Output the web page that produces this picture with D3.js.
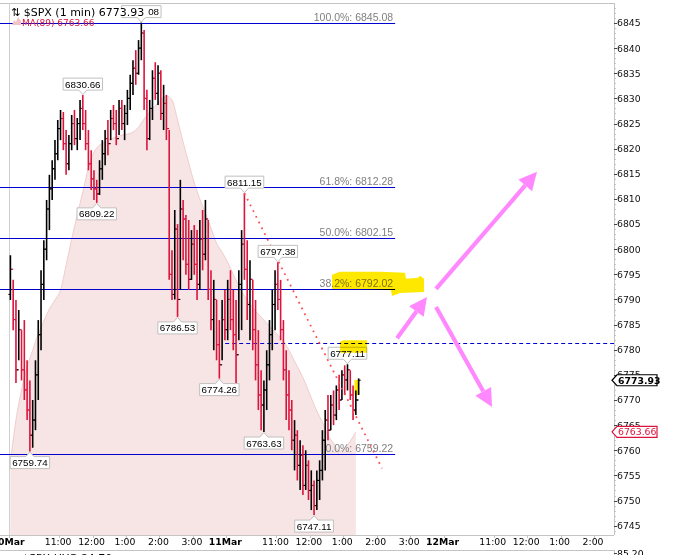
<!DOCTYPE html>
<html><head><meta charset="utf-8">
<script src="https://cdn.jsdelivr.net/npm/d3@7"></script>
<style>body{margin:0;background:#fff;}svg{display:block;}</style>
</head><body><svg id="c" width="685" height="555"></svg>
<script>
// ---------- DATA (5-minute OHLC; opens = previous close) ----------
const firstOpen = 6791;
const highs = [
6798.8,6793.9,6789.9,6787.9,6783.9,6785.9,6777.9,6773.9,6770.0,6777.9,
6785.9,6795.8,6801.8,6809.8,6814.8,6817.7,6821.7,6825.7,6827.7,6827.3,
6823.7,6822.7,6826.7,6827.7,6826.1,6829.7,6830.66,6827.7,6823.7,6819.7,
6815.7,6813.8,6817.7,6821.7,6823.7,6825.7,6827.7,6828.7,6827.7,6829.7,
6829.7,6828.7,6831.7,6834.7,6837.6,6839.6,6841.6,6845.08,6843.6,6831.7,
6829.7,6835.6,6837.2,6836.6,6835.6,6832.7,6830.7,6823.7,6799.8,6807.8,
6805.0,6813.8,6809.8,6806.8,6805.8,6803.8,6804.8,6803.8,6805.8,6807.8,
6809.8,6805.8,6795.8,6793.9,6789.9,6785.9,6789.9,6791.9,
6793.9,6795.8,6791.9,6789.9,6795.8,6803.8,6811.15,6801.8,6797.8,6793.9,
6789.9,6783.9,6775.9,6773.9,6779.9,6785.9,6791.9,6795.8,6797.38,6793.9,
6785.9,6779.9,6775.9,6770.0,6766.0,6764.0,6762.0,6761.0,6760.0,6758.0,
6756.0,6754.0,6756.0,6758.0,6764.0,6768.0,6771.0,6771.0,6771.9,6772.9,
6775.0,6775.9,6776.9,6777.11,6775.9,6772.9,6771.9,6774.3];
const lows = [
6789.9,6783.9,6773.4,6777.9,6773.9,6770.0,6766.0,6759.74,6760.5,6764.0,
6770.0,6779.9,6789.9,6797.8,6803.8,6809.8,6813.8,6817.7,6821.7,6819.7,
6814.8,6815.7,6819.7,6820.7,6819.7,6821.7,6823.7,6819.7,6815.7,6811.8,
6809.8,6809.22,6810.8,6813.8,6816.7,6818.7,6821.7,6823.7,6820.7,6822.7,
6823.7,6821.7,6824.7,6827.7,6830.7,6832.7,6834.7,6837.6,6827.7,6819.7,
6821.7,6825.7,6829.7,6828.7,6825.7,6823.7,6821.7,6793.9,6789.9,6790.0,
6786.53,6792.0,6797.8,6794.9,6791.9,6793.9,6794.9,6789.9,6791.9,6795.8,
6797.8,6789.9,6783.9,6779.9,6777.9,6774.26,6777.9,6781.9,
6781.9,6783.9,6779.9,6772.0,6781.9,6783.9,6793.9,6785.9,6781.9,6779.9,
6773.9,6768.0,6764.0,6763.63,6768.0,6773.9,6779.9,6783.9,6787.9,6781.9,
6773.9,6766.0,6764.0,6760.0,6756.0,6754.0,6752.1,6751.1,6752.1,6750.1,
6748.1,6747.11,6748.1,6750.1,6754.0,6756.0,6762.0,6764.0,6765.0,6766.0,
6768.0,6770.0,6771.0,6771.9,6770.0,6766.0,6767.0,6771.0];
const closes = [
6796,6786,6776,6784,6776,6772,6768,6763,6766,6775,
6783,6793,6800,6808,6812,6816,6819,6824,6826,6821,
6817,6821,6825,6822,6825,6828,6825,6821,6817,6814,
6812,6811,6816,6819,6822,6821,6826,6825,6822,6828,
6825,6827,6830,6833,6836,6835,6840,6843,6830,6822,
6828,6834,6831,6835,6827,6829,6824,6795,6791,6804,
6790,6808,6806,6797,6794,6801,6797,6793,6802,6799,
6806,6792,6786,6790,6781,6777,6786,6784,
6790,6786,6783,6779,6793,6801,6796,6789,6794,6784,
6777,6771,6769,6772,6777,6783,6789,6793,6790,6784,
6776,6771,6768,6762,6763,6757,6759,6753,6757,6752,
6753,6749,6754,6756,6762,6766,6764,6769,6767,6772,
6770,6775,6774,6776,6771,6768,6770,6773.93];
// MA(89), one reading every 2 bars (10 minutes)
const maValues = [
6757.6,6766.0,6772.0,6776.5,6779.9,6783.1,6785.7,6788.1,6789.9,6791.9,
6796.8,6802.0,6806.8,6811.4,6816.2,6819.3,6820.7,6821.3,6821.9,6822.3,
6822.7,6822.9,6823.3,6824.3,6825.9,6827.3,6828.5,6829.7,6830.5,6829.7,
6825.7,6821.3,6817.2,6813.2,6810.0,6807.2,6804.2,6801.2,6799.4,6797.4,
6795.0,6792.7,6790.7,6789.1,6787.7,6786.5,6785.3,6784.1,6782.9,6781.7,
6779.9,6777.7,6775.6,6773.2,6770.4,6767.8,6765.6,6763.0,6761.4,6759.8,
6760.4,6761.8,6763.66];
const fibPct = ["100.0%","61.8%","50.0%","38.2%","0.0%"];
const fibVal = [6845.08,6812.28,6802.15,6792.02,6759.22];
const calloutBar = [26,47,31,60,7,75,84,96,91,109,121];
const calloutVal = [6830.66,6845.08,6809.22,6786.53,6759.74,6774.26,6811.15,6797.38,6763.63,6747.11,6777.11];
const calloutHigh = [true,true,false,false,false,false,true,true,false,false,true];
const yTicks = d3.range(6745, 6846, 5);
const timeTickMin = [0,90,150,210,270,330,390,480,540,600,660,720,780,870,930,990,1050];
const timeTickLbl = ["10Mar","11:00","12:00","1:00","2:00","3:00","11Mar","11:00","12:00","1:00","2:00","3:00","12Mar","11:00","12:00","1:00","2:00"];
const lastPrice = 6773.93, lastMA = 6763.66;
const resistance = 6781.3;
const trendLine = [[422.5,6811.15],[669.4,6756.4]];
const arrows = [[[696.4,6782.3],[750.2,6790.5]],[[766.4,6792.1],[947.6,6815.4]],[[766.4,6788.5],[866.9,6768.6]]];
const yellowMarks = [
  [[579.7,6794.9],[594.1,6795.5],[665.9,6795.5],[710.7,6795.3],[712.5,6794.1],[734.1,6794.3],[737.7,6794.7],[744.8,6794.1],[744.8,6791.5],[701.8,6791.3],[687.4,6790.7],[685.6,6791.9],[630,6792.1],[579.7,6792.1]],
  [[594.1,6781.6],[600,6781.9],[642.5,6781.9],[642.5,6779.4],[594.1,6779.4]],
  [[620,6774.0],[629,6774.0],[629,6771.0],[620,6771.0]]
];
const fibEndMin = 693, dashStartMin = 388;

// ---------- LAYOUT ----------
const plot = {left:0, right:614, top:3, bottom:535};
const x = d3.scaleLinear().domain([0,1170]).range([9, 660.9]);
const y = d3.scaleLinear().domain([6745,6845]).range([525.67,23]);
const RED = "#dc143c", BLUE = "#0000d0";
const svg = d3.select("#c");
const AX = "DejaVu Sans, Verdana, sans-serif";
const AR = "Liberation Sans, Arial, sans-serif";

svg.append("defs").append("clipPath").attr("id","pc").append("rect")
  .attr("x",plot.left).attr("y",plot.top).attr("width",plot.right-plot.left).attr("height",plot.bottom-plot.top);

// frame
const fr = svg.append("g").attr("stroke","#c4c4c4").attr("shape-rendering","crispEdges");
fr.append("line").attr("x1",0).attr("x2",plot.right).attr("y1",plot.top).attr("y2",plot.top);
fr.append("line").attr("x1",0).attr("x2",plot.right).attr("y1",plot.bottom).attr("y2",plot.bottom);
fr.append("line").attr("x1",plot.right).attr("x2",plot.right).attr("y1",plot.top).attr("y2",plot.bottom);
fr.append("line").attr("x1",x(0)).attr("x2",x(0)).attr("y1",plot.top).attr("y2",plot.bottom).attr("stroke","#d0d0d0");
fr.append("line").attr("x1",0).attr("x2",plot.right).attr("y1",550).attr("y2",550);
fr.append("line").attr("x1",plot.right).attr("x2",plot.right).attr("y1",550).attr("y2",555);

const g = svg.append("g").attr("clip-path","url(#pc)");
const maX = (d,k)=>x(k*10+2.5);
g.append("path").datum(maValues)
  .attr("d", d3.area().x(maX).y0(plot.bottom).y1(d=>y(d)).curve(d3.curveMonotoneX))
  .attr("fill","#f7e4e4");
g.append("path").datum(maValues)
  .attr("d", d3.line().x(maX).y(d=>y(d)).curve(d3.curveMonotoneX))
  .attr("fill","none").attr("stroke","#f0cdcd").attr("stroke-width",1);

g.append("g").selectAll("line").data(fibVal).join("line")
  .attr("x1",plot.left).attr("x2",x(fibEndMin))
  .attr("y1",d=>Math.round(y(d))+0.5).attr("y2",d=>Math.round(y(d))+0.5)
  .attr("stroke",BLUE).attr("stroke-width",1);
g.append("line").attr("x1",x(dashStartMin)).attr("x2",plot.right)
  .attr("y1",Math.round(y(resistance))+0.5).attr("y2",Math.round(y(resistance))+0.5)
  .attr("stroke",BLUE).attr("stroke-dasharray","4,3");

const bars = highs.map((h,i)=>({i,h,l:lows[i],c:closes[i],o:i===0?firstOpen:closes[i-1]}));
const bx = d=>x(d.i*5+2.5);
const bg = g.append("g").selectAll("g").data(bars).join("g")
  .attr("stroke",d=>d.c>=d.o?"#000":RED).attr("stroke-width",1.6);
bg.append("line").attr("x1",bx).attr("x2",bx).attr("y1",d=>y(d.h)).attr("y2",d=>y(d.l));
bg.append("line").attr("x1",d=>bx(d)-2).attr("x2",bx).attr("y1",d=>y(d.o)).attr("y2",d=>y(d.o)).attr("stroke-width",1.1);
bg.append("line").attr("x1",bx).attr("x2",d=>bx(d)+2).attr("y1",d=>y(d.c)).attr("y2",d=>y(d.c)).attr("stroke-width",1.1);

g.append("line").attr("x1",x(trendLine[0][0])).attr("y1",y(trendLine[0][1]))
  .attr("x2",x(trendLine[1][0])).attr("y2",y(trendLine[1][1]))
  .attr("stroke","#ff5050").attr("stroke-width",1.8).attr("stroke-dasharray","1.8,4.6");

svg.append("g").selectAll("text").data(fibVal).join("text")
  .attr("x",x(fibEndMin)-2).attr("y",d=>Math.round(y(d))-2.5)
  .attr("text-anchor","end").attr("font-family",AR).attr("font-size",10.5).attr("fill","#808080")
  .text((d,i)=>fibPct[i]+": "+d.toFixed(2));

const cg = svg.append("g");
calloutVal.forEach((v,i)=>{
  const xx = x(calloutBar[i]*5+2.5), yy = y(v);
  const t = cg.append("text").attr("font-family",AR).attr("font-size",9.8).attr("fill","#000")
    .attr("text-anchor","middle").text(v.toFixed(2));
  const w = t.node().getComputedTextLength()+4, hh = 12;
  const L = xx-w/2, R = xx+w/2;
  let d;
  if (calloutHigh[i]) {
    const B = yy-5, T = B-hh;
    d = `M${L},${T}H${R}V${B}H${xx+4}L${xx},${yy-0.5}L${xx-4},${B}H${L}Z`;
    t.attr("x",xx).attr("y",B-2.5);
  } else {
    const T = yy+5, B = T+hh;
    d = `M${L},${T}H${xx-4}L${xx},${yy+0.5}L${xx+4},${T}H${R}V${B}H${L}Z`;
    t.attr("x",xx).attr("y",B-2.5);
  }
  cg.insert("path","text").attr("d",d).attr("fill","#fff").attr("stroke","#c0c0c0").attr("stroke-width",1);
});

svg.append("g").selectAll("path").data(yellowMarks).join("path")
  .attr("d",d=>d3.line().x(p=>x(p[0])).y(p=>y(p[1]))(d)+"Z")
  .attr("fill","#ffe800").style("mix-blend-mode","multiply");

const ag = svg.append("g");
arrows.forEach(a=>{
  const x1=x(a[0][0]), y1=y(a[0][1]), x2=x(a[1][0]), y2=y(a[1][1]);
  const ang=Math.atan2(y2-y1,x2-x1), hl=18, hw=9;
  const bxp=x2-hl*Math.cos(ang), byp=y2-hl*Math.sin(ang);
  ag.append("line").attr("x1",x1).attr("y1",y1).attr("x2",bxp).attr("y2",byp)
    .attr("stroke","#ff88ff").attr("stroke-width",4.2);
  const px=-Math.sin(ang)*hw, py=Math.cos(ang)*hw;
  ag.append("path").attr("d",`M${x2},${y2}L${bxp+px},${byp+py}L${bxp-px},${byp-py}Z`).attr("fill","#ff88ff");
});

const ra = svg.append("g").attr("shape-rendering","crispEdges");
ra.selectAll("line.mn").data(d3.range(6744,6849,1)).join("line").attr("class","mn")
  .attr("x1",plot.right).attr("x2",plot.right+2).attr("y1",d=>Math.round(y(d))+0.5).attr("y2",d=>Math.round(y(d))+0.5)
  .attr("stroke","#c4c4c4");
ra.selectAll("line.mj").data(yTicks).join("line").attr("class","mj")
  .attr("x1",plot.right).attr("x2",plot.right+3).attr("y1",d=>Math.round(y(d))+0.5).attr("y2",d=>Math.round(y(d))+0.5)
  .attr("stroke","#444");
svg.append("g").selectAll("text").data(yTicks).join("text")
  .attr("x",plot.right+3).attr("y",d=>y(d)+3.4).attr("font-family",AX).attr("font-size",9.3).attr("fill","#111")
  .text(d=>d);
function valueBox(v, col, bold){
  const yy=y(v);
  svg.append("path").attr("d",`M${plot.right-2},${yy}L${plot.right+3},${yy-5.5}H657V${yy+5.5}H${plot.right+3}Z`)
    .attr("fill","#fff").attr("stroke",col).attr("stroke-width",1.2);
  svg.append("text").attr("x",plot.right+4).attr("y",yy+3.4).attr("font-family",AX).attr("font-size",9.3)
    .attr("font-weight",bold?"bold":"normal").attr("fill",col).text(v.toFixed(2));
}
valueBox(lastPrice,"#000",true);
valueBox(lastMA,RED,false);

const ba = svg.append("g");
ba.selectAll("line").data(timeTickMin).join("line")
  .attr("x1",d=>Math.round(x(d))+0.5).attr("x2",d=>Math.round(x(d))+0.5).attr("y1",plot.bottom).attr("y2",plot.bottom+3)
  .attr("stroke","#c4c4c4");
ba.selectAll("text").data(timeTickMin).join("text")
  .attr("x",d=>x(d)-1).attr("y",544.5).attr("text-anchor","middle")
  .attr("font-family",AX).attr("font-size",9.3).attr("fill","#000")
  .attr("font-weight",(d,i)=>timeTickLbl[i].includes("Mar")?"bold":"normal")
  .text((d,i)=>timeTickLbl[i]);

svg.append("text").attr("x",22).attr("y",562).attr("font-family",AX).attr("font-size",11).text("$SPX:HYG 84.70");
svg.append("line").attr("x1",plot.right).attr("x2",plot.right+3).attr("y1",553.5).attr("y2",553.5).attr("stroke","#444");
svg.append("text").attr("x",plot.right+3).attr("y",557).attr("font-family",AX).attr("font-size",9.3).text("85.20");

svg.append("rect").attr("x",10).attr("y",8).attr("width",138).attr("height",9).attr("fill","#fff");
svg.append("text").attr("x",11).attr("y",15.5).attr("font-family",AX).attr("font-size",11).attr("fill","#000")
  .text("⇅ $SPX (1 min) "+lastPrice.toFixed(2));
svg.append("path").attr("d","M12,25L14,20L16,22L18,17L21,21L21,25Z").attr("fill","#f2c4c4");
svg.append("text").attr("x",22).attr("y",25.5).attr("font-family",AX).attr("font-size",9).attr("fill",RED)
  .text("MA(89) "+lastMA.toFixed(2));
</script></body></html>
